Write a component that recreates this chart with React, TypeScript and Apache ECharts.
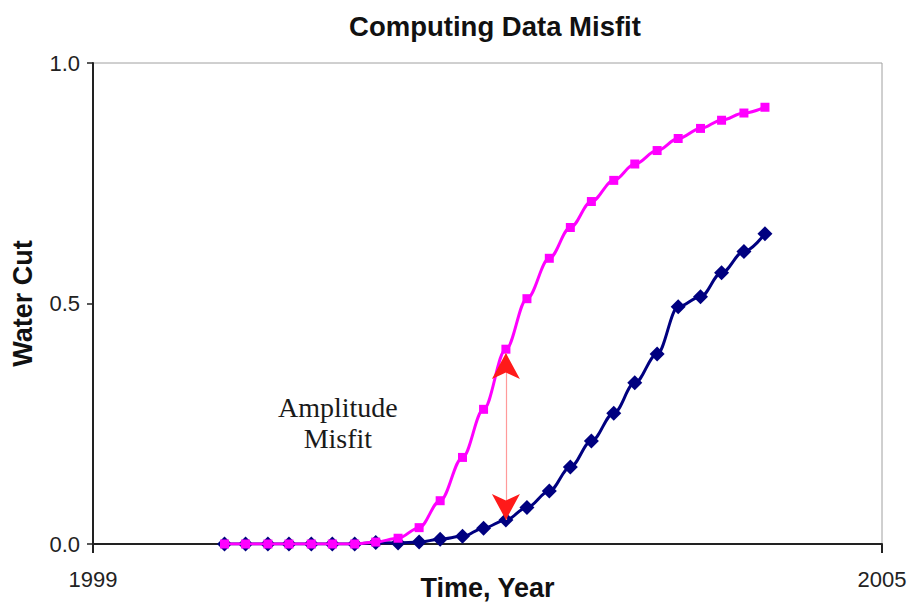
import React, { useEffect, useRef } from "react";
import * as echarts from "echarts";

const TITLE = "Computing Data Misfit";
const X_NAME = "Time, Year";
const Y_NAME = "Water Cut";
const X_TICKS = [1999, 2005];
const Y_TICKS = [0, 0.5, 1.0];

// observation times, decimal years
const times = [
  2000.0, 2000.16, 2000.33, 2000.49, 2000.66, 2000.82, 2000.99, 2001.15, 2001.32,
  2001.48, 2001.64, 2001.81, 2001.97, 2002.14, 2002.3, 2002.47, 2002.63, 2002.79,
  2002.96, 2003.12, 2003.29, 2003.45, 2003.62, 2003.78, 2003.95, 2004.11,
];

// observed (navy diamonds)
const observed = [
  0, 0, 0, 0, 0, 0, 0, 0.003, 0.002, 0.004, 0.01, 0.016, 0.033, 0.05, 0.076, 0.11,
  0.16, 0.214, 0.272, 0.335, 0.395, 0.493, 0.514, 0.564, 0.608, 0.645,
];

// computed (magenta squares)
const computed = [
  0, 0, 0, 0, 0, 0, 0, 0.004, 0.012, 0.034, 0.09, 0.18, 0.28, 0.405, 0.51, 0.594,
  0.658, 0.712, 0.756, 0.79, 0.818, 0.843, 0.864, 0.881, 0.896, 0.908,
];

// annotation arrow end points
const ARROW_X = times[13];
const ARROW_TOP = 0.397;
const ARROW_BOTTOM = 0.05;
const ANNOTATION = "Amplitude\nMisfit";

export default function App() {
  const ref = useRef<HTMLDivElement>(null);
  useEffect(() => {
    if (!ref.current) return;
    const chart = echarts.init(ref.current, undefined, { renderer: "svg" });
    const sans = "Liberation Sans, Arial, sans-serif";
    const pair = (xs: number[], ys: number[]) => xs.map((x, i) => [x, ys[i]]);
    const arrowCoords = [
      { coord: [ARROW_X, ARROW_BOTTOM] },
      { coord: [ARROW_X, ARROW_TOP] },
    ];
    chart.setOption({
      animation: false,
      backgroundColor: "#ffffff",
      title: {
        text: TITLE,
        left: 490,
        textAlign: "center",
        top: 7,
        textStyle: { fontFamily: sans, fontSize: 27.5, fontWeight: "bold", color: "#111" },
      },
      grid: {
        left: 93,
        right: 31,
        top: 63,
        bottom: 64,
        containLabel: false,
        outerBoundsMode: "none",
        show: true,
        borderColor: "#a0a0a0",
        borderWidth: 1,
        backgroundColor: "transparent",
      },
      xAxis: {
        type: "value",
        min: 1999,
        max: 2005,
        interval: 1,
        name: X_NAME,
        nameLocation: "middle",
        nameGap: 30,
        nameMoveOverlap: false,
        nameTextStyle: { fontFamily: sans, fontSize: 27, fontWeight: "bold", color: "#111" },
        axisLine: { show: true, lineStyle: { color: "#222", width: 2 } },
        axisTick: { show: true, length: 9, customValues: X_TICKS, lineStyle: { color: "#222", width: 2 } },
        axisLabel: {
          customValues: X_TICKS,
          margin: 24,
          fontFamily: sans,
          fontSize: 22,
          color: "#222",
          formatter: (v: number) => String(v),
        },
        splitLine: { show: false },
      },
      yAxis: {
        type: "value",
        min: 0,
        max: 1,
        interval: 0.5,
        name: Y_NAME,
        nameLocation: "middle",
        nameGap: 57,
        nameMoveOverlap: false,
        nameTextStyle: { fontFamily: sans, fontSize: 27, fontWeight: "bold", color: "#111" },
        axisLine: { show: true, lineStyle: { color: "#222", width: 2 } },
        axisTick: { show: true, length: 6, customValues: Y_TICKS, lineStyle: { color: "#222", width: 1.5 } },
        axisLabel: {
          margin: 13,
          fontFamily: sans,
          fontSize: 22,
          color: "#222",
          formatter: (v: number) => v.toFixed(1),
        },
        splitLine: { show: false },
      },
      series: [
        {
          name: "Observed",
          type: "line",
          data: pair(times, observed),
          smooth: 0.35,
          smoothMonotone: "x",
          symbol: "diamond",
          symbolSize: 15,
          itemStyle: { color: "#000080" },
          lineStyle: { color: "#000080", width: 3 },
          z: 2,
        },
        {
          name: "Computed",
          type: "line",
          data: pair(times, computed),
          smooth: 0.35,
          smoothMonotone: "x",
          symbol: "rect",
          symbolSize: 9,
          itemStyle: { color: "#ff00ff" },
          lineStyle: { color: "#ff00ff", width: 3 },
          z: 3,
          markLine: {
            silent: true,
            symbol: ["none", "none"],
            label: { show: false },
            lineStyle: { color: "#ff9a9a", width: 1.2, type: "solid" },
            data: [arrowCoords],
            z: 4,
          },
        },
        {
          name: "ArrowHeads",
          type: "line",
          data: [],
          markLine: {
            silent: true,
            symbol: ["arrow", "arrow"],
            symbolSize: [21, 26],
            label: { show: false },
            lineStyle: { color: "#ff1a1a", width: 0, opacity: 1 },
            data: [arrowCoords],
            z: 5,
          },
        },
      ],
      graphic: [
        {
          type: "text",
          left: 278,
          top: 392,
          style: {
            text: ANNOTATION,
            fontFamily: "Liberation Serif, Times New Roman, serif",
            fontSize: 28,
            lineHeight: 31,
            fill: "#1a1a1a",
            align: "center",
            textAlign: "center",
          },
        },
      ],
    });
    return () => chart.dispose();
  }, []);
  return (
    <div
      ref={ref}
      style={{ position: "absolute", left: 0, top: 0, width: 913, height: 608 }}
    />
  );
}
